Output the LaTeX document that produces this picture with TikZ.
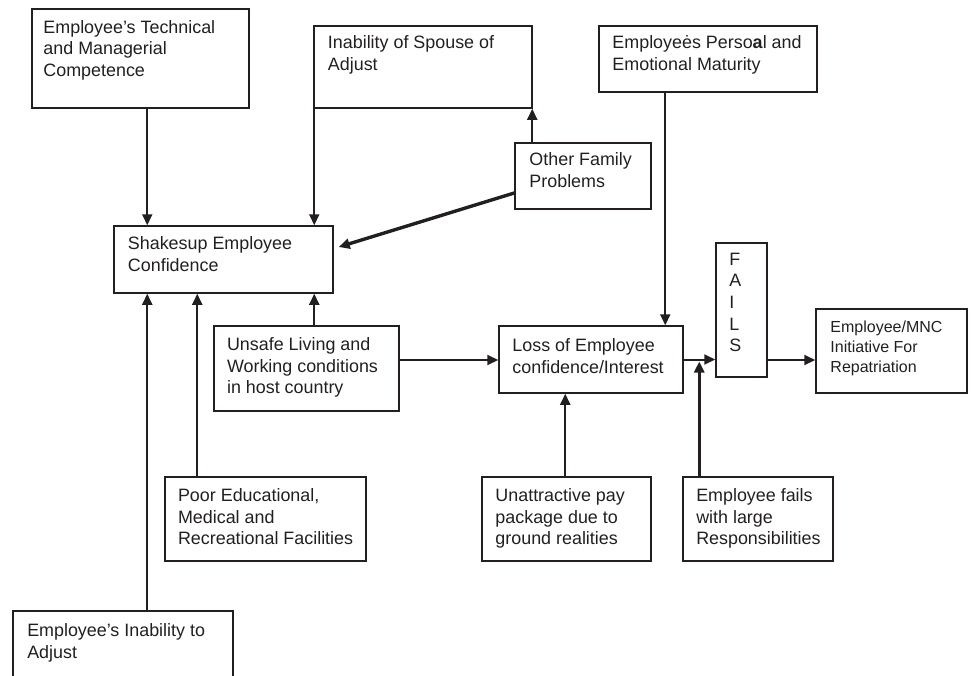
\documentclass[tikz,border=0pt]{standalone}
\usepackage{fontspec}
\setmainfont{Liberation Sans}
\usetikzlibrary{arrows.meta}
\definecolor{ink}{RGB}{35,31,32}
\begin{document}
\begin{tikzpicture}[x=1pt,y=-1pt,
  box/.style={draw=ink, line width=1.5pt, inner sep=0pt},
  lbl/.style={anchor=north west, inner sep=0pt, align=left, text=ink,
    font=\fontsize{17.9}{21.6}\selectfont},
  small/.style={lbl, font=\fontsize{16}{20}\selectfont},
  conn/.style={draw=ink, line width=2pt, -{Triangle[length=11pt,width=10pt]}},
  heavy/.style={conn, line width=3.4pt}]
\useasboundingbox (0,0) rectangle (971,675);
\begin{scope}
\clip (0,0) rectangle (971,675);

% boxes
\node[box, minimum width=217pt, minimum height=99pt] (tech)    at (140.5,58.5) {};
\node[box, minimum width=218pt, minimum height=82pt] (spouse)  at (423,67) {};
\node[box, minimum width=218pt, minimum height=66pt] (mature)  at (708,59) {};
\node[box, minimum width=136pt, minimum height=66pt] (other)   at (583,176) {};
\node[box, minimum width=219pt, minimum height=67pt] (shake)   at (223.5,259.5) {};
\node[box, minimum width=185pt, minimum height=85pt] (unsafe)  at (306.5,368.5) {};
\node[box, minimum width=184pt, minimum height=67pt] (loss)    at (591,359.5) {};
\node[box, minimum width=51pt,  minimum height=134pt] (fails)  at (741.5,310) {};
\node[box, minimum width=151pt, minimum height=84pt] (repat)   at (891.5,351) {};
\node[box, minimum width=201pt, minimum height=84pt] (poor)    at (265.5,519) {};
\node[box, minimum width=169pt, minimum height=84pt] (unattr)  at (566.5,519) {};
\node[box, minimum width=150pt, minimum height=84pt] (empfail) at (758,519) {};
\node[box, minimum width=220pt, minimum height=89pt] (inab)    at (123,655.5) {};

% box texts
\node[lbl] (techT)   at ([shift={(12,11.7)}]tech.north west) {Employee’s Technical\\and Managerial\\Competence};
\node[lbl] (spouseT) at ([shift={(14.5,10)}]spouse.north west) {Inability of Spouse of\\Adjust};
\node[lbl] (matureT) at ([shift={(14,10)}]mature.north west) {Employeės Perso\textbf{a}l and\\Emotional Maturity};
\node[lbl] (otherT)  at ([shift={(15,10.3)}]other.north west) {Other Family\\Problems};
\node[lbl] (shakeT)  at ([shift={(14.5,11.3)}]shake.north west) {Shakesup Employee\\Confidence};
\node[lbl] (unsafeT) at ([shift={(13.6,12.3)}]unsafe.north west) {Unsafe Living and\\Working conditions\\in host country};
\node[lbl] (lossT)   at ([shift={(14,13)}]loss.north west) {Loss of Employee\\confidence/Interest};
\node[lbl] (failsT)  at ([shift={(14,10.5)}]fails.north west) {F\\A\\I\\L\\S};
\node[small] (repatT) at ([shift={(15,12.7)}]repat.north west) {Employee/MNC\\Initiative For\\Repatriation};
\node[lbl] (poorT)   at ([shift={(13.6,12.3)}]poor.north west) {Poor Educational,\\Medical and\\Recreational Facilities};
\node[lbl] (unattrT) at ([shift={(14,12.3)}]unattr.north west) {Unattractive pay\\package due to\\ground realities};
\node[lbl] (empfailT) at ([shift={(13.8,12.3)}]empfail.north west) {Employee fails\\with large\\Responsibilities};
\node[lbl] (inabT)   at ([shift={(14.8,13)}]inab.north west) {Employee’s Inability to\\Adjust};

% connector anchor points
\coordinate (t1) at ([xshift=116pt]tech.south west);
\coordinate (s1) at ([xshift=1pt]spouse.south west);
\coordinate (o1) at ([xshift=18pt]other.north west);
\coordinate (o2) at ([yshift=-17pt]other.west);
\coordinate (k1) at ([xshift=5pt,yshift=12.5pt]shake.east);
\coordinate (u1) at ([xshift=101pt]unsafe.north west);
\coordinate (p1) at ([xshift=33pt]poor.north west);
\coordinate (i1) at ([xshift=135pt]inab.north west);
\coordinate (u2) at ([yshift=8.5pt]unsafe.east);
\coordinate (m1) at ([xshift=67pt]mature.south west);
\coordinate (a1) at ([xshift=84pt]unattr.north west);
\coordinate (e1) at ([xshift=17pt]empfail.north west);
\coordinate (f1) at ([yshift=-50pt]fails.east);

% connectors
\draw[conn] (t1) -- (t1 |- shake.north);
\draw[conn] (s1) -- (s1 |- shake.north);
\draw[conn] (o1) -- (o1 |- spouse.south);
\draw[heavy] (o2) -- (k1);
\draw[conn] (u1) -- (u1 |- shake.south);
\draw[conn] (p1) -- (p1 |- shake.south);
\draw[conn] (i1) -- (i1 |- shake.south);
\draw[conn] (u2) -- (u2 -| loss.west);
\draw[conn] (m1) -- (m1 |- loss.north);
\draw[conn] (a1) -- (a1 |- loss.south);
\draw[conn] (loss.east) -- (loss.east -| fails.west);
\draw[heavy, shorten >=2pt] (e1) -- (e1 |- loss.east);
\draw[conn] (f1) -- (f1 -| repat.west);
\end{scope}
\end{tikzpicture}
\end{document}
